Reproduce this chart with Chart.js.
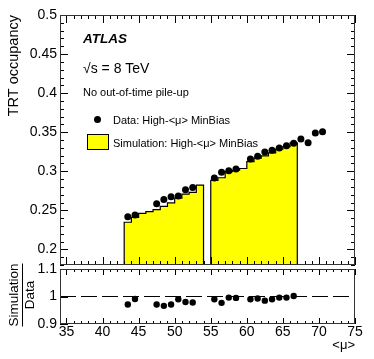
<!DOCTYPE html>
<html>
<head>
<meta charset="utf-8">
<script src="https://cdn.jsdelivr.net/npm/chart.js@4.4.1/dist/chart.umd.min.js"></script>
<style>
	body { margin: 0; background: #fff; }
	#wrap { position: relative; width: 374px; height: 359px; }
	#wrap canvas { position: absolute; left: 0; top: 0; }
</style>
</head>
<body>
<div id="wrap">
	<canvas id="chart__main" width="374" height="359"></canvas>
	<canvas id="chart__ratio" width="374" height="359"></canvas>
</div>
<script>
// Data
const dataMu = [43.5, 44.5, 47.5, 48.5, 49.5, 50.5, 51.5, 52.5, 55.5, 56.5, 57.5, 58.5, 60.5, 61.5, 62.5, 63.5, 64.5, 65.5, 66.5, 67.5, 68.5, 69.5, 70.5];
const dataOcc = [0.2417, 0.2439, 0.2584, 0.264, 0.2673, 0.2682, 0.2763, 0.2791, 0.2913, 0.2986, 0.3006, 0.3028, 0.3156, 0.3191, 0.3246, 0.3268, 0.3297, 0.3327, 0.3357, 0.3412, 0.3365, 0.3489, 0.3506];

const simMu = [43.5, 44.5, 45.5, 46.5, 47.5, 48.5, 49.5, 50.5, 51.5, 52.5, 53.5, 55.5, 56.5, 57.5, 58.5, 59.5, 60.5, 61.5, 62.5, 63.5, 64.5, 65.5, 66.5];
const simOcc = [0.2347, 0.241, 0.246, 0.2482, 0.2509, 0.255, 0.2595, 0.2655, 0.2708, 0.273, 0.2823, 0.2884, 0.2917, 0.2994, 0.3013, 0.3035, 0.3124, 0.3169, 0.3197, 0.3235, 0.3284, 0.3314, 0.3364];

const ratioMu = [43.5, 44.5, 47.5, 48.5, 49.5, 50.5, 51.5, 52.5, 55.5, 56.5, 57.5, 58.5, 60.5, 61.5, 62.5, 63.5, 64.5, 65.5, 66.5];
const ratioVal = [0.971, 0.991, 0.971, 0.966, 0.971, 0.99, 0.98, 0.978, 0.99, 0.977, 0.996, 0.995, 0.99, 0.993, 0.985, 0.99, 0.996, 0.996, 1.002];

// Axis ticks and labels
const muTicks = [35, 40, 45, 50, 55, 60, 65, 70, 75];
const occTicks = [0.2, 0.25, 0.3, 0.35, 0.4, 0.45, 0.5];
const ratioTicks = [0.9, 1, 1.1];
const legendLabels = ["Data: High-<\u03bc> MinBias", "Simulation: High-<\u03bc> MinBias"];

const X_MIN = 34.1;
const X_MAX = 75;
const FONT = '"Liberation Sans", Arial, sans-serif';

Chart.defaults.font.family = FONT;
Chart.defaults.color = "#000";

document.addEventListener("DOMContentLoaded", () => {
	initMainChart();
	initRatioChart();
});

// Points dataset helper
const pointsDataset = (xs, ys, radius) => ({
	data: xs.map((x, i) => ({ x, y: ys[i] })),
	pointRadius: radius,
	pointBackgroundColor: "#000",
	pointBorderWidth: 0,
	showLine: false,
	order: 0,
});

// Split simulation bins into contiguous blocks and build stepped outlines
const histDatasets = (yBase) => {
	const blocks = [];
	simMu.forEach((c, i) => {
		const last = blocks[blocks.length - 1];
		if (!last || c - last[last.length - 1].c > 1.01) blocks.push([]);
		blocks[blocks.length - 1].push({ c, v: simOcc[i] });
	});
	return blocks.map((bins) => {
		const lo = bins[0].c - 0.5;
		const hi = bins[bins.length - 1].c + 0.5;
		const pts = [{ x: lo, y: yBase }];
		bins.forEach((b) => pts.push({ x: b.c - 0.5, y: b.v }));
		pts.push({ x: hi, y: bins[bins.length - 1].v });
		pts.push({ x: hi, y: yBase });
		return {
			type: "line",
			data: pts,
			stepped: true,
			showLine: true,
			pointRadius: 0,
			borderColor: "#000",
			borderWidth: 1.2,
			backgroundColor: "#ffff00",
			fill: "start",
			order: 1,
		};
	});
};

// ROOT style frame with inward ticks
const framePlugin = (cfg) => ({
	id: "rootFrame",
	afterDatasetsDraw: (chart) => {
		const { ctx, chartArea: a } = chart;
		const { x, y } = chart.scales;
		ctx.save();
		ctx.strokeStyle = "#000";
		ctx.lineWidth = 1;
		ctx.beginPath();
		for (let v = Math.ceil(x.min); v <= x.max; v++) {
			const px = Math.round(x.getPixelForValue(v)) + 0.5;
			const len = v % 5 === 0 ? cfg.xMajor : cfg.xMinor;
			ctx.moveTo(px, a.bottom);
			ctx.lineTo(px, a.bottom - len);
			ctx.moveTo(px, a.top);
			ctx.lineTo(px, a.top + len);
		}
		const yVals = [];
		if (cfg.yMinorStep) {
			const n = Math.round((y.max - y.min) / cfg.yMinorStep);
			for (let i = 0; i <= n; i++) yVals.push(y.min + i * cfg.yMinorStep);
		} else {
			yVals.push(...cfg.yMajorTicks);
		}
		yVals.forEach((v) => {
			const major = cfg.yMajorTicks.some((m) => Math.abs(m - v) < 1e-6);
			const len = major ? cfg.yMajor : cfg.yMinor;
			const py = Math.round(y.getPixelForValue(v)) + 0.5;
			ctx.moveTo(a.left, py);
			ctx.lineTo(a.left + len, py);
			if (cfg.right) {
				ctx.moveTo(a.right, py);
				ctx.lineTo(a.right - len, py);
			}
		});
		ctx.stroke();
		ctx.strokeStyle = "#333";
		ctx.strokeRect(a.left + 0.5, a.top + 0.5, a.right - a.left - 1, a.bottom - a.top - 1);
		ctx.restore();
	},
});

// ATLAS labels and legend
const labelsPlugin = {
	id: "atlasLabels",
	afterDraw: (chart) => {
		const ctx = chart.ctx;
		ctx.save();
		ctx.fillStyle = "#000";
		ctx.textAlign = "left";
		ctx.textBaseline = "middle";
		ctx.font = `italic bold 13.5px ${FONT}`;
		ctx.fillText("ATLAS", 83, 39.5);
		ctx.font = `14px ${FONT}`;
		ctx.fillText("\u221as = 8 TeV", 83, 69.5);
		ctx.font = `11px ${FONT}`;
		ctx.fillText("No out-of-time pile-up", 83, 93);

		ctx.beginPath();
		ctx.arc(97.5, 119.5, 3.5, 0, Math.PI * 2);
		ctx.fill();
		ctx.fillText(legendLabels[0], 113, 121);

		ctx.fillStyle = "#ffff00";
		ctx.fillRect(87, 134, 21, 15);
		ctx.strokeStyle = "#000";
		ctx.lineWidth = 1;
		ctx.strokeRect(87.5, 134.5, 21, 15);
		ctx.fillStyle = "#000";
		ctx.fillText(legendLabels[1], 113, 143.5);
		ctx.restore();
	},
};

// Simulation / Data fraction title on the ratio panel
const ratioTitlePlugin = {
	id: "ratioTitle",
	afterDraw: (chart) => {
		const ctx = chart.ctx;
		const yMid = (chart.chartArea.top + chart.chartArea.bottom) / 2 - 1.5;
		ctx.save();
		ctx.translate(0, yMid);
		ctx.rotate(-Math.PI / 2);
		ctx.fillStyle = "#000";
		ctx.font = `13.5px ${FONT}`;
		ctx.textAlign = "center";
		ctx.textBaseline = "middle";
		ctx.fillText("Simulation", 0, 14.5);
		ctx.fillText("Data", 0, 30.5);
		const w = ctx.measureText("Simulation").width;
		ctx.lineWidth = 1;
		ctx.strokeStyle = "#000";
		ctx.beginPath();
		ctx.moveTo(-w / 2, 22.5);
		ctx.lineTo(w / 2, 22.5);
		ctx.stroke();
		ctx.restore();
	},
};

// Main occupancy panel
const initMainChart = () => {
	const ctx = document.getElementById("chart__main");
	if (!ctx) return;
	const yMin = 0.18;
	new Chart(ctx, {
		type: "scatter",
		data: { datasets: [pointsDataset(dataMu, dataOcc, 3.5), ...histDatasets(yMin)] },
		options: {
			responsive: false,
			animation: false,
			layout: { padding: { left: 0, right: 19, top: 15, bottom: 94 } },
			plugins: { legend: { display: false }, tooltip: { enabled: false } },
			scales: {
				x: { type: "linear", min: X_MIN, max: X_MAX, display: false },
				y: {
					min: yMin,
					max: 0.5,
					afterFit: (axis) => { axis.width = 60; },
					afterBuildTicks: (axis) => { axis.ticks = occTicks.map((value) => ({ value })); },
					grid: { display: false, drawTicks: false },
					border: { display: false },
					ticks: { padding: 3, font: { size: 14 }, callback: (v) => String(v) },
					title: {
						display: true,
						text: "TRT occupancy",
						align: "end",
						font: { size: 14.5 },
						padding: { top: 5, bottom: 0 },
					},
				},
			},
		},
		plugins: [
			framePlugin({ xMajor: 8, xMinor: 4, yMajor: 8, yMinor: 4, yMinorStep: 0.01, yMajorTicks: occTicks, right: true }),
			labelsPlugin,
		],
	});
};

// Ratio panel
const initRatioChart = () => {
	const ctx = document.getElementById("chart__ratio");
	if (!ctx) return;
	new Chart(ctx, {
		type: "scatter",
		data: {
			datasets: [
				pointsDataset(ratioMu, ratioVal, 3.2),
				{
					type: "line",
					data: [{ x: X_MIN, y: 1 }, { x: X_MAX, y: 1 }],
					borderColor: "#000",
					borderWidth: 1.2,
					borderDash: [16, 5],
					pointRadius: 0,
					showLine: true,
					order: 1,
				},
			],
		},
		options: {
			responsive: false,
			animation: false,
			layout: { padding: { left: 0, right: 19, top: 269, bottom: 0 } },
			plugins: { legend: { display: false }, tooltip: { enabled: false } },
			scales: {
				x: {
					type: "linear",
					min: X_MIN,
					max: X_MAX,
					afterFit: (axis) => { axis.height = 35; },
					afterBuildTicks: (axis) => { axis.ticks = muTicks.map((value) => ({ value })); },
					grid: { display: false, drawTicks: false },
					border: { display: false },
					ticks: { padding: 0, maxRotation: 0, autoSkip: false, font: { size: 14 } },
					title: {
						display: true,
						text: "<\u03bc>",
						align: "end",
						font: { size: 13 },
						padding: { top: 0, bottom: 6 },
					},
				},
				y: {
					min: 0.9,
					max: 1.1,
					afterFit: (axis) => { axis.width = 60; },
					afterBuildTicks: (axis) => { axis.ticks = ratioTicks.map((value) => ({ value })); },
					grid: { display: false, drawTicks: false },
					border: { display: false },
					ticks: { padding: 3, font: { size: 14 }, callback: (v) => String(v) },
				},
			},
		},
		plugins: [
			framePlugin({ xMajor: 6, xMinor: 3, yMajor: 8, yMinor: 4, yMinorStep: 0, yMajorTicks: ratioTicks, right: false }),
			ratioTitlePlugin,
		],
	});
};
</script>
</body>
</html>
